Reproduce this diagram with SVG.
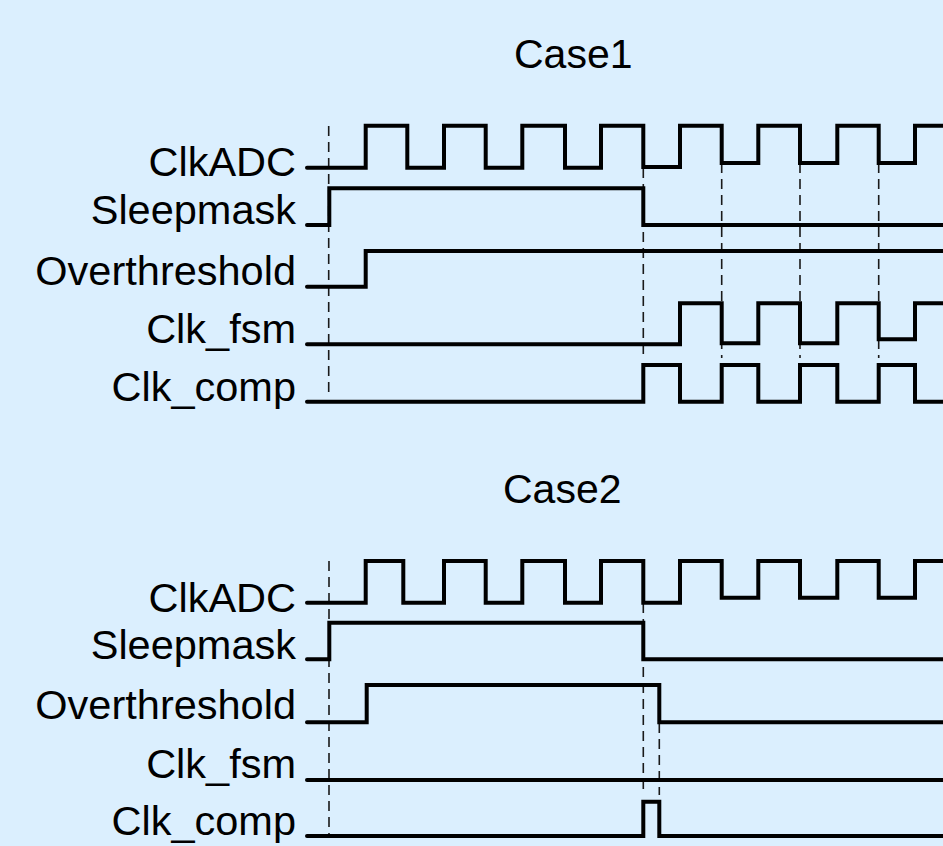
<svg xmlns="http://www.w3.org/2000/svg" width="943" height="846" viewBox="0 0 943 846">
<style>
.bg{fill:#DBEFFE}
.lbl{font-family:"Liberation Sans",Arial,sans-serif;font-size:41.5px;fill:#000;text-anchor:end}
.ttl{font-family:"Liberation Sans",Arial,sans-serif;font-size:41px;fill:#000}
.w{fill:none;stroke:#000;stroke-width:4;stroke-linejoin:miter;stroke-linecap:round}
.d{fill:none;stroke:#1a1a1a;stroke-width:1.6;stroke-dasharray:10 6}
</style>
<rect class="bg" x="0" y="0" width="943" height="846"/>
<g id="title1"><text class="ttl" x="514" y="67.7">Case1</text></g>
<g id="title2"><text class="ttl" x="503" y="503.3">Case2</text></g>

<g id="connectors">
<line class="d" x1="328.7" y1="126" x2="328.7" y2="398"/>
<line class="d" x1="643.3" y1="168" x2="643.3" y2="358"/>
<line class="d" x1="721.7" y1="163" x2="721.7" y2="358"/>
<line class="d" x1="800" y1="163" x2="800" y2="358"/>
<line class="d" x1="878.7" y1="163" x2="878.7" y2="358"/>
<line class="d" x1="329" y1="561" x2="329" y2="834"/>
<line class="d" x1="643.3" y1="603" x2="643.3" y2="795"/>
<line class="d" x1="659.3" y1="723" x2="659.3" y2="795"/>
</g>

<g id="c1-clkadc">
<text class="lbl" x="296" y="175.7">ClkADC</text>
<polyline class="w" points="307,167.7 365.7,167.7 365.7,125.7 407.3,125.7 407.3,167.7 444,167.7 444,125.7 485.7,125.7 485.7,167.7 522.3,167.7 522.3,125.7 565,125.7 565,167.7 601,167.7 601,125.7 643.3,125.7 643.3,167 680,167 680,125.7 721.7,125.7 721.7,163 758.3,163 758.3,125.7 800,125.7 800,163 837.3,163 837.3,125.7 878.7,125.7 878.7,163 915,163 915,125.7 945,125.7"/>
</g>
<g id="c1-sleepmask">
<text class="lbl" x="296" y="224">Sleepmask</text>
<polyline class="w" points="307,225 329.3,225 329.3,188.3 643.3,188.3 643.3,225 945,225"/>
</g>
<g id="c1-overthreshold">
<text class="lbl" x="296" y="285">Overthreshold</text>
<polyline class="w" points="307,286.7 365.7,286.7 365.7,251 945,251"/>
</g>
<g id="c1-clkfsm">
<text class="lbl" x="296" y="343.3">Clk_fsm</text>
<polyline class="w" points="307,344.3 680,344.3 680,303.3 721.7,303.3 721.7,343.3 758.3,343.3 758.3,303.3 800,303.3 800,343.3 837.3,343.3 837.3,303.3 878.7,303.3 878.7,339.3 915,339.3 915,303.3 945,303.3"/>
</g>
<g id="c1-clkcomp">
<text class="lbl" x="296" y="400.7">Clk_comp</text>
<polyline class="w" points="307,401.7 643.3,401.7 643.3,365 680,365 680,401.7 721.7,401.7 721.7,365 758.3,365 758.3,401.7 800,401.7 800,365 837.3,365 837.3,401.7 878.7,401.7 878.7,365 915,365 915,401.7 945,401.7"/>
</g>

<g id="c2-clkadc">
<text class="lbl" x="296" y="611.7">ClkADC</text>
<polyline class="w" points="307,602.7 365.7,602.7 365.7,561 403.3,561 403.3,602.7 444,602.7 444,561 485.7,561 485.7,602.7 522.3,602.7 522.3,561 565,561 565,602.7 601,602.7 601,561 643.3,561 643.3,602.7 680,602.7 680,561 721.7,561 721.7,597.7 758.3,597.7 758.3,561 800,561 800,597.7 837.3,597.7 837.3,561 878.7,561 878.7,597.7 915,597.7 915,561 945,561"/>
</g>
<g id="c2-sleepmask">
<text class="lbl" x="296" y="659">Sleepmask</text>
<polyline class="w" points="307,659.3 329.3,659.3 329.3,622.7 643.3,622.7 643.3,659.3 945,659.3"/>
</g>
<g id="c2-overthreshold">
<text class="lbl" x="296" y="719.3">Overthreshold</text>
<polyline class="w" points="307,722.3 366.7,722.3 366.7,685 659.3,685 659.3,722.3 945,722.3"/>
</g>
<g id="c2-clkfsm">
<text class="lbl" x="296" y="778.3">Clk_fsm</text>
<polyline class="w" points="307,780 945,780"/>
</g>
<g id="c2-clkcomp">
<text class="lbl" x="296" y="835">Clk_comp</text>
<polyline class="w" points="307,836 643.3,836 643.3,801.7 659.3,801.7 659.3,836 945,836"/>
</g>
</svg>
